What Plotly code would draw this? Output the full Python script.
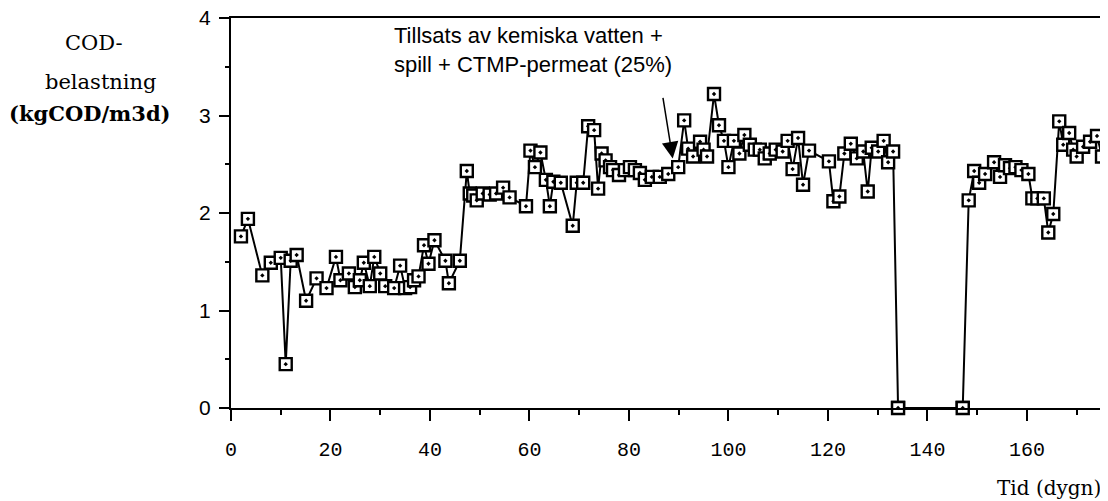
import plotly.graph_objects as go

# COD load over time
tid = [2, 3.4, 6.3, 8, 10, 11, 12, 13.2, 15.1, 17.2, 19.2, 21.1, 22, 23.7, 24.9,
       25.9, 26.7, 27.9, 28.8, 30, 31, 32.8, 34, 35, 36, 36.8, 37.7, 38.8, 39.7,
       40.9, 43.1, 43.8, 46, 47.4, 48, 48.7, 49.4, 50.6, 52, 53.3, 54.7, 56, 59.3,
       60.2, 61.1, 62.2, 63.3, 64.1, 64.8, 66.3, 68.7, 69.5, 70.8, 71.8, 73, 73.8,
       74.5, 75.3, 76.2, 76.8, 78, 79.2, 80.2, 81.2, 82.2, 83.2, 84.6, 86.2, 87.9,
       89.9, 91.1, 91.9, 92.9, 94.3, 95, 95.7, 97.1, 98.1, 99.1, 100, 101.1, 102.2,
       103.2, 104.3, 105.3, 106.3, 107.3, 108.3, 109.5, 110.9, 111.9, 112.9, 114,
       115, 116.2, 120.2, 121.1, 122.3, 123.3, 124.6, 125.8, 127.1, 128, 128.8,
       130.1, 131.2, 132.1, 133.1, 134.1, 147.1, 148.3, 149.4, 150.4, 151.6, 153.4,
       154.6, 155.6, 156.6, 157.7, 158.9, 160.3, 161.1, 162.1, 163.4, 164.3, 165.3,
       166.5, 167.3, 168.5, 169.3, 170, 171.3, 172.7, 174.1, 175.1, 176]
cod = [1.76, 1.94, 1.36, 1.49, 1.54, 0.45, 1.51, 1.57, 1.10, 1.33, 1.23, 1.55, 1.31,
       1.38, 1.24, 1.31, 1.49, 1.25, 1.55, 1.38, 1.25, 1.23, 1.46, 1.23, 1.24, 1.31,
       1.35, 1.67, 1.48, 1.72, 1.51, 1.28, 1.51, 2.43, 2.20, 2.18, 2.13, 2.20, 2.19,
       2.20, 2.26, 2.16, 2.07, 2.64, 2.47, 2.62, 2.34, 2.07, 2.32, 2.31, 1.87, 2.31,
       2.31, 2.89, 2.85, 2.25, 2.61, 2.54, 2.47, 2.44, 2.39, 2.44, 2.47, 2.44, 2.41,
       2.34, 2.37, 2.37, 2.40, 2.47, 2.95, 2.66, 2.58, 2.73, 2.65, 2.58, 3.22, 2.90,
       2.74, 2.47, 2.74, 2.61, 2.80, 2.70, 2.65, 2.65, 2.56, 2.61, 2.65, 2.63, 2.74,
       2.45, 2.77, 2.29, 2.64, 2.53, 2.12, 2.17, 2.61, 2.71, 2.56, 2.63, 2.22, 2.67,
       2.63, 2.74, 2.52, 2.63, 0, 0, 2.13, 2.43, 2.31, 2.40, 2.52, 2.37, 2.49, 2.46,
       2.47, 2.44, 2.40, 2.15, 2.15, 2.15, 1.80, 1.99, 2.94, 2.70, 2.82, 2.65, 2.58,
       2.68, 2.73, 2.79, 2.58, 2.71]

x_ticks = [0, 20, 40, 60, 80, 100, 120, 140, 160]
y_ticks = [0, 1, 2, 3, 4]

# plot area in screen pixels (from the scan); the page body adds an 8px offset,
# so the figure itself is made 8px smaller to stay inside the window
OFF = 8
L, R, T, B = 231, 1105, 18, 408
W, H = 1108 - OFF, 501 - OFF


def px(xp):
    return (xp - L) / (R - L)


def py(yp):
    return (B - yp) / (B - T)


marker = dict(symbol="square-dot", size=12, color="white",
              line=dict(color="black", width=2.4))

fig = go.Figure()
fig.add_trace(go.Scatter(x=tid, y=cod, mode="lines+markers",
                         line=dict(color="black", width=2),
                         marker=marker, showlegend=False))
# the zero readings sit on the axis, draw them unclipped
zx = [t for t, c in zip(tid, cod) if c == 0]
zy = [c for c in cod if c == 0]
fig.add_trace(go.Scatter(x=zx, y=zy, mode="markers", marker=marker,
                         cliponaxis=False, showlegend=False))

serif = "DejaVu Serif"
fig.update_layout(
    width=W, height=H,
    margin=dict(l=L - OFF, r=W - (R - OFF), t=T - OFF, b=H - (B - OFF)),
    paper_bgcolor="white", plot_bgcolor="white",
    xaxis=dict(range=[0, 175.7], tickvals=x_ticks, ticks="outside", ticklen=11,
               tickwidth=1.5, tickcolor="black", showline=True, linecolor="black",
               linewidth=2, mirror=True, showgrid=False, zeroline=False,
               ticklabelstandoff=11, automargin=False, ticklabeloverflow="allow",
               tickfont=dict(family="Liberation Mono", size=20, color="black"),
               minor=dict(dtick=10, tick0=0, ticks="outside", ticklen=5,
                          tickwidth=1.5, tickcolor="black", showgrid=False)),
    yaxis=dict(range=[0, 4], tickvals=y_ticks, ticks="outside", ticklen=10,
               tickwidth=1.5, tickcolor="black", showline=True, linecolor="black",
               linewidth=2, mirror=True, showgrid=False, zeroline=False,
               ticklabelstandoff=4, automargin=False, ticklabeloverflow="allow",
               tickfont=dict(family="Liberation Sans", size=21, color="black"),
               minor=dict(dtick=0.5, tick0=0, ticks="outside", ticklen=4,
                          tickwidth=1.5, tickcolor="black", showgrid=False)),
)

ytitle = [("COD-", 94, 43), ("belastning", 101, 82), ("<b>(kgCOD/m3d)</b>", 90, 113)]
for txt, xp, yp in ytitle:
    fig.add_annotation(text=txt, xref="paper", yref="paper", x=px(xp), y=py(yp),
                       xanchor="center", yanchor="middle", showarrow=False,
                       font=dict(family=serif, size=21, color="black"))

fig.add_annotation(text="Tid (dygn)", xref="paper", yref="paper", x=px(1103), y=py(488),
                   xanchor="right", yanchor="middle", showarrow=False,
                   font=dict(family=serif, size=20, color="black"))

fig.add_annotation(text="Tillsats av kemiska vatten +<br>spill + CTMP-permeat (25%)",
                   xref="paper", yref="paper", x=px(392), y=py(21),
                   xanchor="left", yanchor="top", align="left", showarrow=False,
                   font=dict(family="Liberation Sans", size=22, color="black"))

fig.add_annotation(x=88.8, y=2.56, xref="x", yref="y", text="", showarrow=True,
                   ax=-10, ay=-62, arrowhead=2, arrowsize=2.2, arrowwidth=1.5,
                   arrowcolor="black")

fig.write_html("out.html")
